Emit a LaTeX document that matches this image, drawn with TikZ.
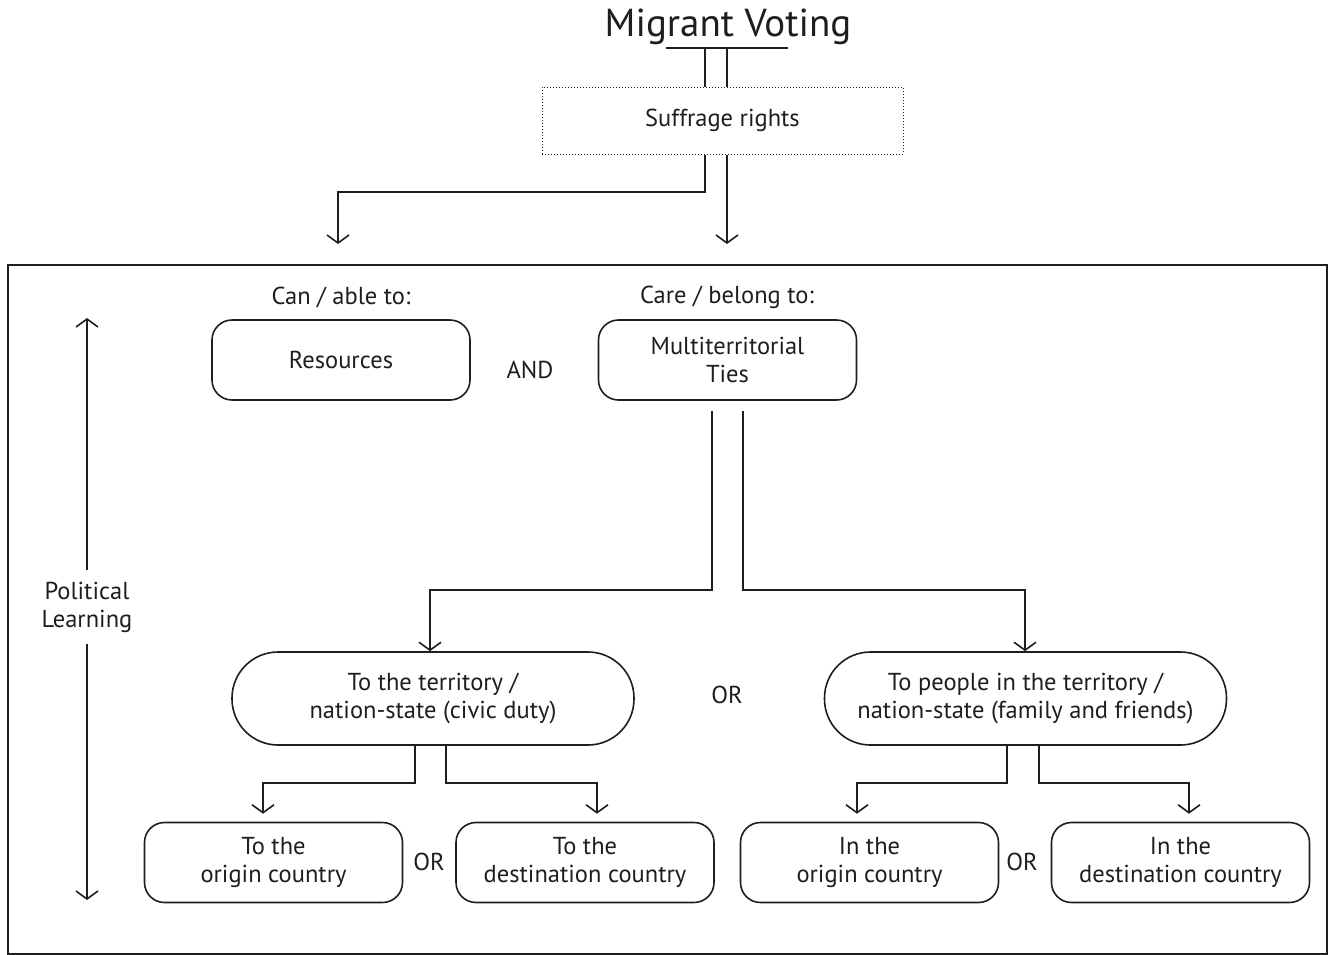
\documentclass[tikz,border=0pt]{standalone}
\usepackage{fontspec}
\setmainfont{PT Sans}
\usetikzlibrary{arrows.meta,calc}
\definecolor{ink}{HTML}{1E1E1E}
\newcommand\bodyfs{\fontsize{24.5}{28}\selectfont}
\newcommand\titlefs{\fontsize{39}{42}\selectfont}
\begin{document}
\begin{tikzpicture}[x=1pt,y=-1pt,
  ln/.style={draw=ink, line width=1.6pt},
  arr/.style={ln, -{Straight Barb[length=8pt,width=22pt,line width=1.6pt]}},
  rbox/.style={draw=ink, line width=1.6pt, rounded corners=20pt, minimum width=258pt, minimum height=80pt, align=center, font=\bodyfs, inner sep=0pt, text=ink},
  pill/.style={draw=ink, line width=1.6pt, rounded corners=46pt, minimum width=402pt, minimum height=93pt, align=center, font=\bodyfs, inner sep=0pt, text=ink},
  lbl/.style={font=\bodyfs, text=ink, align=center, inner sep=0pt}
]
\useasboundingbox (0,0) rectangle (1328,954);
% frame (its bottom edge falls at the picture's lower border)
\draw[ink, line width=1.6pt] (8,265) rectangle (1327,954);

% title
\node[font=\titlefs, text=ink, inner sep=0pt] (title) at (728,27) {Migrant Voting};
\coordinate (tl) at (666,48);
\coordinate (tr) at (788,48);
\draw[ln] (tl) -- (tr);

% suffrage
\node[draw=ink, line width=1pt, dotted, minimum width=361pt, minimum height=67pt, lbl] (suff) at (722.5,120.5) {Suffrage rights};
\draw[ln] (705,48) -- (705,87);
\draw[ln] (727,48) -- (727,87);

\coordinate (canc) at (338,244);
\coordinate (carec) at (727,244);
\draw[arr] (suff.south -| 705,0) -- (705,192) -| (canc);
\draw[arr] (suff.south -| 727,0) -- (carec);

% second level
\node[lbl] (can) at (341,297) {Can / able to:};
\node[lbl] (care) at (727,297) {Care / belong to:};
\node[rbox] (res) at (341,360) {Resources};
\node[lbl] (and) at (530,370) {AND};
\node[rbox] (multi) at (727.5,360) {Multiterritorial\\Ties};

% political learning
\node[lbl] (pl) at (87,607) {Political\\Learning};
\coordinate (pltop) at (87,318);
\coordinate (plbot) at (87,900);
\draw[arr] ($(pl.north)+(0,-12)$) -- (pltop);
\draw[arr] ($(pl.south)+(0,12)$) -- (plbot);

% third level
\node[pill] (civic) at (433,698.5) {To the territory /\\nation-state (civic duty)};
\node[lbl] (or1) at (727,695) {OR};
\node[pill] (fam) at (1025.5,698.5) {To people in the territory /\\nation-state (family and friends)};

\draw[arr] ($(multi.south)+(-15.5,10)$) -- (712,590) -| (civic.north -| 430,0);
\draw[arr] ($(multi.south)+(15.5,10)$) -- (743,590) -| (fam.north -| 1025,0);

% fourth level
\node[rbox] (o1) at (273.5,862.5) {To the\\origin country};
\node[lbl] (or2) at (429,862) {OR};
\node[rbox] (d1) at (585,862.5) {To the\\destination country};
\node[rbox] (o2) at (869.5,862.5) {In the\\origin country};
\node[lbl] (or3) at (1022,862) {OR};
\node[rbox] (d2) at (1180.5,862.5) {In the\\destination country};

\draw[arr] (civic.south -| 415,0) -- (415,783) -| ($(o1.north -| 263,0)+(0,-8)$);
\draw[arr] (civic.south -| 446,0) -- (446,783) -| ($(d1.north -| 597,0)+(0,-8)$);
\draw[arr] (fam.south -| 1007,0) -- (1007,783) -| ($(o2.north -| 857,0)+(0,-8)$);
\draw[arr] (fam.south -| 1039,0) -- (1039,783) -| ($(d2.north -| 1189,0)+(0,-8)$);
\end{tikzpicture}
\end{document}
